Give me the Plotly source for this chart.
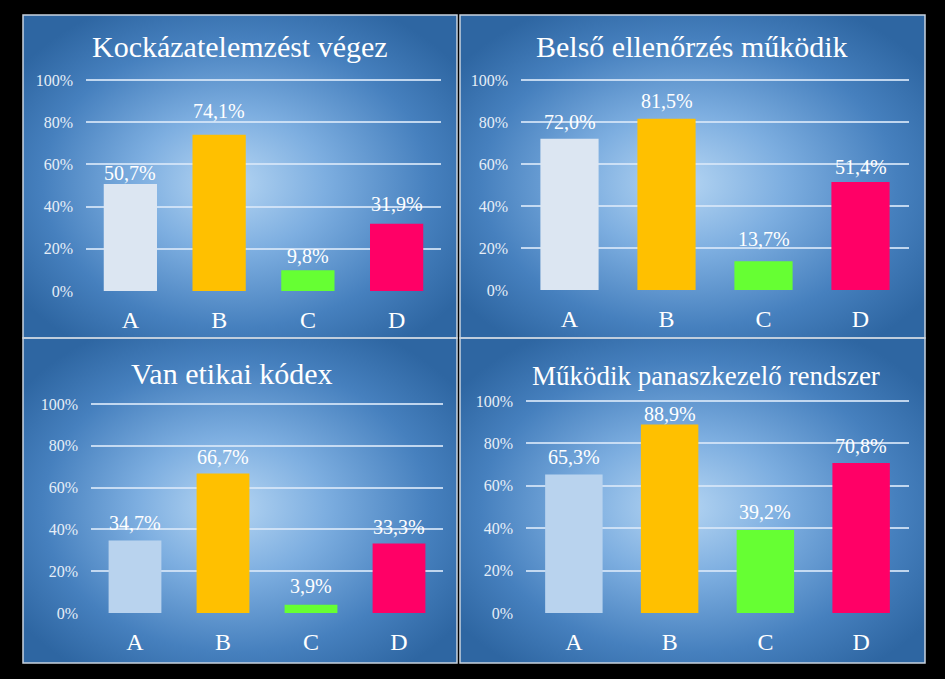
import base64
import plotly.graph_objects as go

W, H = 945, 679

categories = ["A", "B", "C", "D"]
titles = ["Kockázatelemzést végez", "Belső ellenőrzés működik",
          "Van etikai kódex", "Működik panaszkezelő rendszer"]
values_1 = [0.507, 0.741, 0.098, 0.319]
values_2 = [0.720, 0.815, 0.137, 0.514]
values_3 = [0.347, 0.667, 0.039, 0.333]
values_4 = [0.653, 0.889, 0.392, 0.708]
all_values = [values_1, values_2, values_3, values_4]
y_ticks = [0, 0.2, 0.4, 0.6, 0.8, 1.0]
y_tick_labels = ["0%", "20%", "40%", "60%", "80%", "100%"]

# style: gap (px) between bar top and label baseline, per panel
label_gaps = [[4, 17, 7, 13], [10, 11, 15, 8], [10, 10, 12, 9], [11, 4, 11, 10]]

colors_top = ["#DCE6F2", "#FFC000", "#66FF33", "#FF0066"]
colors_bottom = ["#B9D3EE", "#FFC000", "#66FF33", "#FF0066"]
panel_colors = [colors_top, colors_top, colors_bottom, colors_bottom]

# pixel geometry: panel rects and plot rects (left, top-of-100%, right, bottom)
panels = [(23, 15, 457, 338), (460, 15, 925, 338), (23, 338, 457, 663), (460, 338, 925, 663)]
plots = [(86, 80, 441, 291), (521, 80, 909, 290), (91, 404, 443, 613), (526, 401, 909, 613)]
title_pos = [(240, 47, 30), (692, 47, 30), (232, 373, 30), (706, 376, 27)]
YMAX = 1.02

FONT = "Liberation Serif, Times New Roman, serif"

svg = """<svg xmlns='http://www.w3.org/2000/svg' width='400' height='300' viewBox='0 0 400 300' preserveAspectRatio='none'>
<defs><radialGradient id='g' cx='50%' cy='52%' r='62%' fx='47%' fy='52%'>
<stop offset='0' stop-color='#B6D6F3'/>
<stop offset='0.35' stop-color='#7DAEE0'/>
<stop offset='0.72' stop-color='#4680BE'/>
<stop offset='1' stop-color='#2E66A2'/>
</radialGradient></defs>
<rect width='400' height='300' fill='url(#g)'/></svg>"""
src = "data:image/svg+xml;base64," + base64.b64encode(svg.encode()).decode()


def px(x):
    return x / W


def py(y):
    return 1 - y / H


fig = go.Figure()
images, shapes, annotations = [], [], []
for i in range(4):
    n = "" if i == 0 else str(i + 1)
    vals = all_values[i]
    fig.add_trace(go.Bar(
        x=categories, y=vals, xaxis="x" + n, yaxis="y" + n,
        marker=dict(color=panel_colors[i], line=dict(width=0)),
        showlegend=False, hoverinfo="skip",
    ))
    l, t, r, b = plots[i]
    top = b - (b - t) * YMAX
    fig.layout["xaxis" + n] = dict(
        domain=[px(l), px(r)], anchor="y" + n, showgrid=False, zeroline=False,
        showline=False, tickfont=dict(family=FONT, size=24, color="white"),
        ticklabelstandoff=12, fixedrange=True, automargin=False,
    )
    fig.layout["yaxis" + n] = dict(
        domain=[py(b), py(top)], anchor="x" + n, range=[0, YMAX],
        tickvals=y_ticks, ticktext=y_tick_labels,
        showgrid=True, gridcolor="rgba(215,230,248,0.85)", gridwidth=1.5,
        zeroline=False, showline=False,
        tickfont=dict(family=FONT, size=16, color="#E6EEF7"),
        ticklabelstandoff=12, fixedrange=True, automargin=False,
    )
    for c, v, g in zip(categories, vals, label_gaps[i]):
        annotations.append(dict(
            text=f"{v*100:.1f}%".replace(".", ","), xref="x" + n, yref="y" + n,
            x=c, y=v, xanchor="center", yanchor="bottom", yshift=g - 6,
            showarrow=False, font=dict(family=FONT, size=20, color="white")))
    pl, pt, pr, pb = panels[i]
    images.append(dict(source=src, xref="paper", yref="paper", x=px(pl), y=py(pt),
                       sizex=px(pr) - px(pl), sizey=py(pt) - py(pb),
                       xanchor="left", yanchor="top", sizing="stretch", layer="below"))
    shapes.append(dict(type="rect", xref="paper", yref="paper", x0=px(pl), x1=px(pr),
                       y0=py(pb), y1=py(pt), line=dict(color="#C9D3E0", width=1.5),
                       layer="above"))
    tx, ty, ts = title_pos[i]
    annotations.append(dict(text=titles[i], xref="paper", yref="paper", x=px(tx), y=py(ty),
                            xanchor="center", yanchor="middle", showarrow=False,
                            font=dict(family=FONT, size=ts, color="white")))

fig.update_layout(
    width=W, height=H, margin=dict(l=0, r=0, t=0, b=0, pad=0), autosize=False,
    paper_bgcolor="black", plot_bgcolor="rgba(0,0,0,0)",
    bargap=0.4, images=images, shapes=shapes, annotations=annotations,
)
fig.write_html("out.html", config={"displayModeBar": False})
